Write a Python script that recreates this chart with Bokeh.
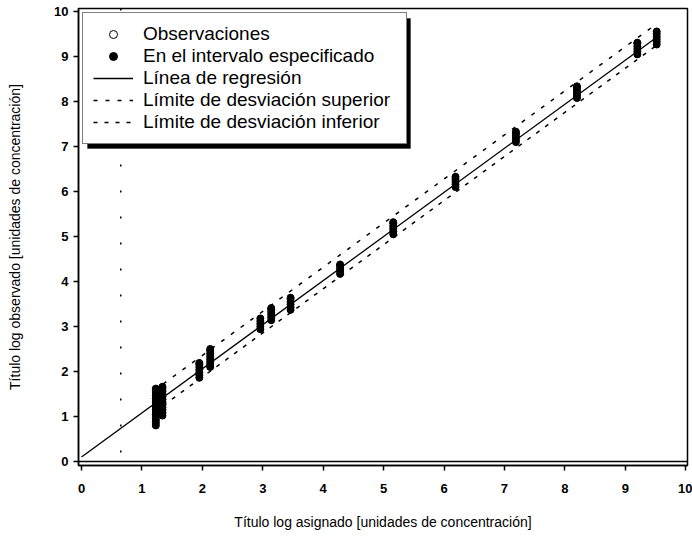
from bokeh.plotting import figure
from bokeh.models import (Legend, LegendItem, Range1d, Span, BoxAnnotation, FixedTicker)
from bokeh.embed import file_html
from bokeh.resources import INLINE

# ---------------- data ----------------
assigned_titer = [1.23, 1.34, 1.95, 2.13, 2.96, 3.14, 3.46, 4.28, 5.16, 6.19, 7.19, 8.20, 9.20, 9.52]
observed_titer = [
    [0.80, 0.86, 0.92, 0.98, 1.04, 1.10, 1.16, 1.22, 1.28, 1.34, 1.40, 1.46, 1.52, 1.58, 1.62],
    [1.02, 1.08, 1.14, 1.20, 1.26, 1.32, 1.38, 1.44, 1.50, 1.56, 1.62, 1.66],
    [1.86, 1.92, 1.98, 2.04, 2.10, 2.16, 2.19],
    [2.10, 2.16, 2.22, 2.28, 2.34, 2.40, 2.46, 2.50],
    [2.94, 3.00, 3.06, 3.12, 3.18],
    [3.14, 3.20, 3.26, 3.32, 3.38, 3.41],
    [3.37, 3.43, 3.49, 3.55, 3.61, 3.64],
    [4.17, 4.23, 4.29, 4.35, 4.38],
    [5.05, 5.11, 5.17, 5.23, 5.29, 5.32],
    [6.10, 6.16, 6.22, 6.28, 6.33],
    [7.10, 7.16, 7.22, 7.28, 7.33],
    [8.08, 8.14, 8.20, 8.26, 8.32, 8.34],
    [9.05, 9.11, 9.17, 9.23, 9.29, 9.31],
    [9.27, 9.33, 9.39, 9.45, 9.51, 9.56],
]

regression_x = [0.0, 9.55]
regression_y = [0.10, 9.46]
upper_limit_x = [1.35, 9.50]
upper_limit_y = [1.72, 9.71]
lower_limit_x = [1.35, 9.55]
lower_limit_y = [1.24, 9.28]

scan_mark_x = 0.65

x_ticks = [0, 1, 2, 3, 4, 5, 6, 7, 8, 9, 10]
y_ticks = [0, 1, 2, 3, 4, 5, 6, 7, 8, 9, 10]

legend_labels = ["Observaciones", "En el intervalo especificado", "Línea de regresión",
                 "Límite de desviación superior", "Límite de desviación inferior"]

# flatten points
pts_x, pts_y = [], []
for xv, ys in zip(assigned_titer, observed_titer):
    for yv in ys:
        pts_x.append(xv)
        pts_y.append(yv)

FONT = "Liberation Sans"

p = figure(width=692, height=541, output_backend="svg", toolbar_location=None,
           x_range=Range1d(-0.05, 10.03), y_range=Range1d(-0.09, 10.07),
           min_border_left=78, min_border_right=5, min_border_top=8, min_border_bottom=76)
p.grid.visible = False
p.outline_line_color = "black"
p.outline_line_width = 1.5
p.background_fill_color = "white"
p.border_fill_color = "white"

for ax in (p.xaxis[0], p.yaxis[0]):
    ax.axis_line_color = "black"
    ax.axis_line_width = 1.5
    ax.major_tick_in = 0
    ax.major_tick_out = 5
    ax.major_tick_line_width = 1.5
    ax.minor_tick_line_color = None
    ax.major_label_text_font = FONT
    ax.major_label_text_font_style = "bold"
    ax.major_label_text_font_size = "13px"
    ax.major_label_text_color = "black"
    ax.axis_label_text_font = FONT
    ax.axis_label_text_font_style = "normal"
    ax.axis_label_text_font_size = "14px"
    ax.axis_label_text_color = "black"

p.xaxis[0].ticker = FixedTicker(ticks=x_ticks)
p.yaxis[0].ticker = FixedTicker(ticks=y_ticks)
p.xaxis[0].axis_label = "Título log asignado [unidades de concentración]"
p.yaxis[0].axis_label = "Título log observado [unidades de concentración]"
p.xaxis[0].major_label_standoff = 13
p.xaxis[0].axis_label_standoff = 18
p.yaxis[0].major_label_standoff = 5
p.yaxis[0].axis_label_standoff = 28

# reference line at zero and scan mark
p.add_layout(Span(location=0, dimension="width", line_color="black", line_width=1.5))
p.add_layout(Span(location=scan_mark_x, dimension="height", line_color="black",
                  line_width=1.5, line_dash="2 24"))

# all observations (hollow), then those within the specified interval (filled) on top
r_obs = p.scatter(pts_x, pts_y, marker="circle", size=6,
                  fill_color="white", line_color="black", line_width=1)
r_in = p.scatter(pts_x, pts_y, marker="circle", size=7, fill_color="black", line_color="black")
r_reg = p.line(regression_x, regression_y, line_color="black", line_width=1.3)
r_up = p.line(upper_limit_x, upper_limit_y, line_color="black", line_width=1.5, line_dash="4 8")
r_lo = p.line(lower_limit_x, lower_limit_y, line_color="black", line_width=1.5, line_dash="4 7")

# legend shadow (offset box behind the legend)
p.add_layout(BoxAnnotation(left=0.099, right=5.445, top=9.848, bottom=6.957,
                           fill_color="black", fill_alpha=1.0, line_color="black",
                           level="annotation"))

legend = Legend(items=[LegendItem(label=legend_labels[0], renderers=[r_obs]),
                       LegendItem(label=legend_labels[1], renderers=[r_in]),
                       LegendItem(label=legend_labels[2], renderers=[r_reg]),
                       LegendItem(label=legend_labels[3], renderers=[r_up]),
                       LegendItem(label=legend_labels[4], renderers=[r_lo])],
                location="top_left", margin=4, padding=10, spacing=0,
                glyph_width=40, glyph_height=20, label_height=20, label_width=253,
                label_standoff=10, label_text_font=FONT, label_text_font_size="19px",
                label_text_color="black", border_line_color="black", border_line_width=1.5,
                background_fill_color="white", background_fill_alpha=1.0)
p.add_layout(legend)

open("out.html", "w").write(file_html(p, INLINE))
